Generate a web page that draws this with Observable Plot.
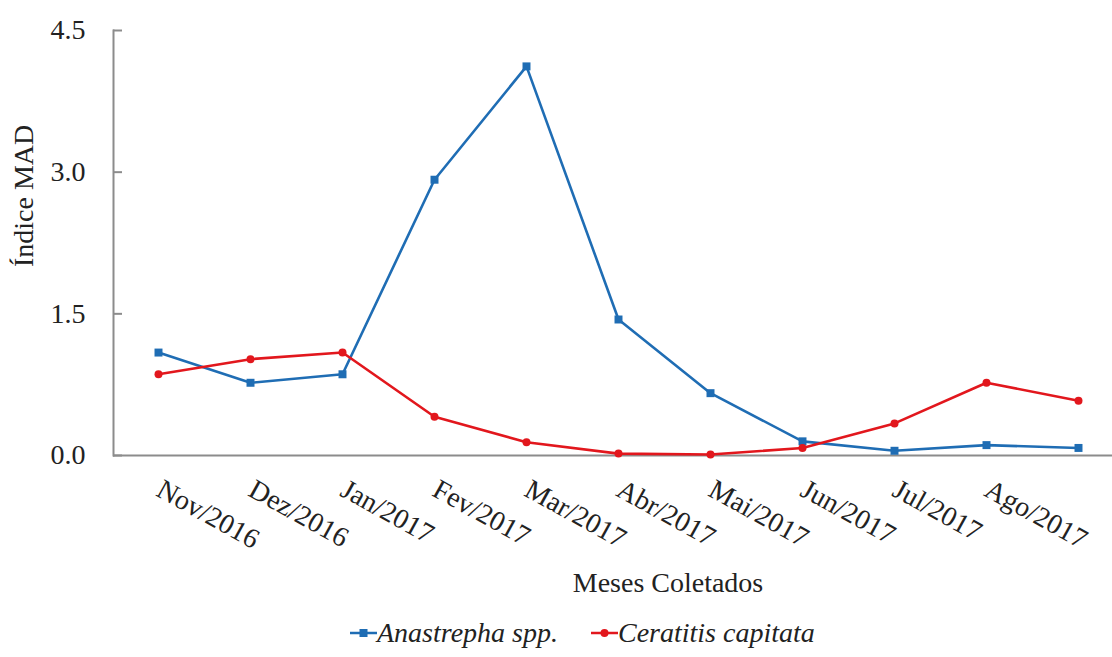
<!DOCTYPE html>
<html>
<head>
<meta charset="utf-8">
<script src="https://cdn.jsdelivr.net/npm/d3@7"></script>
<script src="https://cdn.jsdelivr.net/npm/@observablehq/plot@0.6"></script>
<style>
  html, body { margin: 0; padding: 0; background: #fff; }
  #wrap { position: relative; width: 1112px; height: 657px; overflow: hidden; font-family: "Liberation Serif", "Times New Roman", serif; }
  #legend { position: absolute; top: 615px; left: 350px; height: 36px; display: flex; align-items: center; font-style: italic; font-size: 28px; color: #222; }
  #legend .item { display: flex; align-items: center; }
  #legend svg { display: block; }
</style>
</head>
<body>
<div id="wrap"><div id="chart"></div><div id="legend"></div></div>
<script>
// Data
const months = ["Nov/2016","Dez/2016","Jan/2017","Fev/2017","Mar/2017","Abr/2017","Mai/2017","Jun/2017","Jul/2017","Ago/2017","Set/2017"];
const tickLabels = ["Nov/2016","Dez/2016","Jan/2017","Fev/2017","Mar/2017","Abr/2017","Mai/2017","Jun/2017","Jul/2017","Ago/2017"];
const anastrepha = [1.09, 0.77, 0.86, 2.92, 4.12, 1.44, 0.66, 0.15, 0.05, 0.11, 0.08];
const ceratitis  = [0.86, 1.02, 1.09, 0.41, 0.14, 0.02, 0.01, 0.08, 0.34, 0.77, 0.58];
const yTicks = [0, 1.5, 3.0, 4.5];
const seriesNames = ["Anastrepha spp.", "Ceratitis capitata"];
const seriesColors = ["#1f6db4", "#e2171d"];

const rows = [];
months.forEach((m, i) => {
  rows.push({month: m, value: anastrepha[i], series: seriesNames[0]});
  rows.push({month: m, value: ceratitis[i], series: seriesNames[1]});
});
const rowsA = rows.filter(d => d.series === seriesNames[0]);
const rowsC = rows.filter(d => d.series === seriesNames[1]);

const FONT = "'Liberation Serif', 'Times New Roman', serif";

const chart = Plot.plot({
  width: 1112,
  height: 610,
  marginLeft: 113,
  marginRight: 0,
  marginTop: 30,
  marginBottom: 155,
  style: {fontFamily: FONT, fontSize: "28px", color: "#222", background: "#fff"},
  x: {type: "point", domain: months, range: [158, 1078.7], padding: 0, axis: null},
  y: {domain: [0, 4.5], axis: null},
  marks: [
    Plot.frame({anchor: "left", stroke: "#8c8c8c", strokeWidth: 2}),
    Plot.ruleY([0], {stroke: "#8c8c8c", strokeWidth: 2}),
    Plot.axisY(yTicks, {tickSize: -9, fill: "none", stroke: "#8c8c8c", strokeWidth: 2, label: null}),
    Plot.axisY(yTicks, {tickSize: 0, tickPadding: 28, fill: "#222", tickFormat: d => d.toFixed(1), fontSize: 28, label: null}),
    Plot.text(tickLabels, {x: d => d, frameAnchor: "bottom", rotate: 29, textAnchor: "start", lineAnchor: "top", dx: 6, dy: 22, fontSize: 28, fill: "#222"}),
    Plot.text(["Meses Coletados"], {frameAnchor: "bottom", dx: 55, dy: 128, lineAnchor: "middle", fontSize: 28, fill: "#222"}),
    Plot.text(["Índice MAD"], {frameAnchor: "left", rotate: -90, dx: -89, dy: 24, lineAnchor: "middle", fontSize: 28, fill: "#222"}),
    Plot.line(rowsA, {x: "month", y: "value", stroke: seriesColors[0], strokeWidth: 2.6}),
    Plot.line(rowsC, {x: "month", y: "value", stroke: seriesColors[1], strokeWidth: 2.6}),
    Plot.dot(rowsA, {x: "month", y: "value", symbol: "square", r: 4.5, fill: seriesColors[0], stroke: "none"}),
    Plot.dot(rowsC, {x: "month", y: "value", symbol: "circle", r: 4, fill: seriesColors[1], stroke: "none"})
  ]
});
document.getElementById("chart").appendChild(chart);

// Legend below the SVG
const legend = d3.select("#legend");
seriesNames.forEach((name, i) => {
  const item = legend.append("div").attr("class", "item").style("margin-right", i === 0 ? "33px" : "0px");
  const sw = item.append("svg").attr("width", 27).attr("height", 14);
  sw.append("line").attr("x1", 0).attr("x2", 27).attr("y1", 7).attr("y2", 7).attr("stroke", seriesColors[i]).attr("stroke-width", 2.5);
  if (i === 0) sw.append("rect").attr("x", 9.5).attr("y", 3).attr("width", 8).attr("height", 8).attr("fill", seriesColors[i]);
  else sw.append("circle").attr("cx", 13.5).attr("cy", 7).attr("r", 4).attr("fill", seriesColors[i]);
  item.append("span").text(name);
});
</script>
</body>
</html>
